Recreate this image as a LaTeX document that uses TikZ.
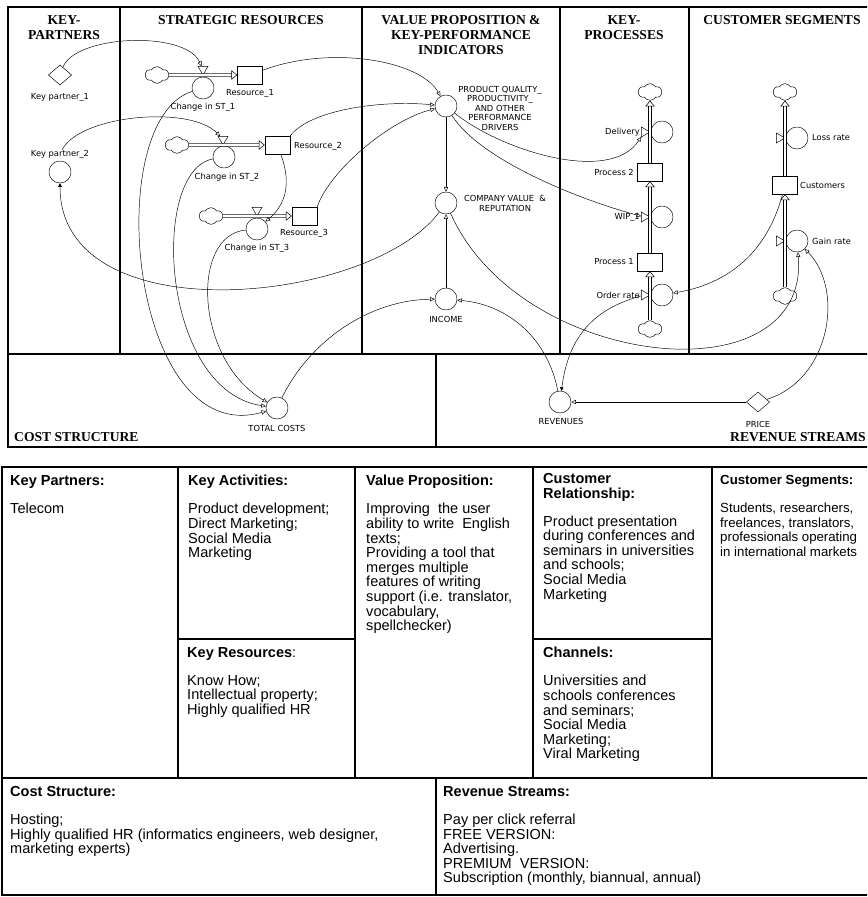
\documentclass[tikz,border=0pt]{standalone}
\usepackage{fontspec}
\setmainfont{Liberation Serif}
\newfontfamily\vsfont{DejaVu Sans}
\newfontfamily\tabfont{Liberation Sans}
\usetikzlibrary{arrows.meta, shapes.geometric, shapes.symbols, positioning}

\tikzset{
    frame/.style      = {line width=1.5pt},                                   % borders of the canvas
    aux/.style        = {circle, draw, minimum size=6.6mm, inner sep=0pt},    % auxiliary variable
    stock/.style      = {rectangle, draw, minimum width=7.5mm, minimum height=5.4mm, inner sep=0pt},
    const/.style      = {diamond, draw, minimum width=7mm, minimum height=6mm, inner sep=0pt},
    cloudy/.style     = {cloud, cloud puffs=6, cloud puff arc=120, draw, minimum width=7mm,
                         minimum height=5mm, inner sep=0pt},
    valvedown/.style  = {regular polygon, regular polygon sides=3, shape border rotate=180,
                         draw, fill=white, minimum size=3.4mm, inner sep=0pt},
    valveright/.style = {regular polygon, regular polygon sides=3, shape border rotate=270,
                         draw, fill=white, minimum size=3.4mm, inner sep=0pt},
    lab/.style        = {font=\vsfont\fontsize{7.1}{8.1}\selectfont, inner sep=0pt, align=center},
    head/.style       = {font=\bfseries\fontsize{11.6}{12.8}\selectfont, inner sep=0pt, align=center},
    cell/.style       = {font=\tabfont\fontsize{12.4}{12.5}\selectfont, anchor=north west,
                         inner sep=0pt, align=left},
    pipe/.style       = {double distance=2pt, line width=0.45pt,
                         -{Triangle[open, length=5pt, width=8pt]}},
    dot/.style        = {-{Triangle[length=3pt, width=3pt]}},
}

\begin{document}
\begin{tikzpicture}[x=0.3mm, y=-0.3mm, thin, >={Triangle[open, length=4pt, width=3.6pt]}]
    \useasboundingbox (0,0) rectangle (867,897);
    \clip (0,0) rectangle (867,897);

    % frame of the model
    \draw[frame] (8,7) rectangle (880,447);
    \foreach \x in {120,362,560,689}
        \draw[frame] (\x,7) -- (\x,354);
    \draw[frame] (8,354) -- (880,354);
    \draw[frame] (436,354) -- (436,447);

    \node[head] (hkp) at (64,27.5)  {KEY-\\PARTNERS};
    \node[head] (hsr) at (241,20)   {STRATEGIC RESOURCES};
    \node[head] (hvp) at (461,35)   {VALUE PROPOSITION \&\\KEY-PERFORMANCE\\INDICATORS};
    \node[head] (hpr) at (624,27.5) {KEY-\\PROCESSES};
    \node[head] (hcs) at (782,20)   {CUSTOMER SEGMENTS};
    \node[head, anchor=west] (hcost) at (14,437)  {COST STRUCTURE};
    \node[head, anchor=east] (hrev)  at (866,437) {REVENUE STREAMS};

    % key partners
    \node[const] (kp1)    at (60,75)  {};
    \node[lab]   (kp1lab) at (60,97)  {Key partner\_1};
    \node[aux]   (kp2)    at (60,172) {};
    \node[lab]   (kp2lab) at (60,154) {Key partner\_2};

    % strategic resources
    \node[cloudy]    (cl1)    at (157,75)   {};
    \node[stock]     (res1)   at (250,75)   {};
    \node[aux]       (st1)    at (203,88)   {};
    \node[valvedown] (v1)     at (203,69.3) {};
    \node[lab]       (st1lab) at (203,107)  {Change in ST\_1};
    \node[lab]       (res1lab) at (250,93)  {Resource\_1};

    \node[cloudy]    (cl2)    at (177,145)   {};
    \node[stock]     (res2)   at (277.5,145) {};
    \node[aux]       (st2)    at (224,157)   {};
    \node[valvedown] (v2)     at (223,139.3) {};
    \node[lab]       (st2lab) at (227,177)   {Change in ST\_2};
    \node[lab, anchor=west] (res2lab) at (294,146) {Resource\_2};

    \node[cloudy]    (cl3)    at (211,216)   {};
    \node[stock]     (res3)   at (304.5,216) {};
    \node[aux]       (st3)    at (257,229)   {};
    \node[valvedown] (v3)     at (257,210.3) {};
    \node[lab]       (st3lab) at (257,248)   {Change in ST\_3};
    \node[lab]       (res3lab) at (304,233)  {Resource\_3};

    \draw[pipe] (cl1) -- (res1);
    \draw[pipe] (cl2) -- (res2);
    \draw[pipe] (cl3) -- (res3);

    % value proposition and KPI
    \node[aux] (pq)    at (446,106) {};
    \node[lab] (pqlab) at (500,108) {PRODUCT QUALITY\_\\PRODUCTIVITY\_\\AND OTHER\\PERFORMANCE\\DRIVERS};
    \node[aux] (cv)    at (446,203) {};
    \node[lab] (cvlab) at (505,203.5) {COMPANY VALUE\ \ \&\\REPUTATION};
    \node[aux] (inc)   at (446,299) {};
    \node[lab] (inclab) at (446,319) {INCOME};

    % key processes
    \node[cloudy]     (kptop) at (650,92)    {};
    \node[aux]        (del)   at (662,132)   {};
    \node[valveright] (vdel)  at (644.3,132) {};
    \node[lab, anchor=east] (dellab) at (640,132) {Delivery};
    \node[stock]      (p2)    at (650,172)   {};
    \node[lab, anchor=east] (p2lab)  at (634,172) {Process 2};
    \node[aux]        (wip)   at (662,217)   {};
    \node[valveright] (vwip)  at (644.3,217) {};
    \node[lab, anchor=east] (wiplab) at (640,217) {WIP\_1};
    \node[stock]      (p1)    at (650,262)   {};
    \node[lab, anchor=east] (p1lab)  at (634,262) {Process 1};
    \node[aux]        (ord)   at (662,295)   {};
    \node[valveright] (vord)  at (644.3,295) {};
    \node[lab, anchor=east] (ordlab) at (640,295) {Order rate};
    \node[cloudy]     (kpbot) at (650,329)   {};

    \draw[pipe] (kpbot) -- (p1);
    \draw[pipe] (p1) -- (p2);
    \draw[pipe] (p2) -- (kptop);

    % customer segments
    \node[cloudy]     (cstop) at (785,92)    {};
    \node[aux]        (loss)  at (797,138)   {};
    \node[valveright] (vloss) at (779.3,138) {};
    \node[lab, anchor=west] (losslab) at (812,138) {Loss rate};
    \node[stock]      (cust)  at (785,185)   {};
    \node[lab, anchor=west] (custlab) at (800,185) {Customers};
    \node[aux]        (gain)  at (797,241)   {};
    \node[valveright] (vgain) at (779.3,241) {};
    \node[lab, anchor=west] (gainlab) at (812,241) {Gain rate};
    \node[cloudy]     (csbot) at (785,296)   {};

    \draw[pipe] (csbot) -- (cust);
    \draw[pipe] (cust) -- (cstop);

    % costs and revenues
    \node[aux]   (tc)       at (277,408) {};
    \node[lab]   (tclab)    at (277,428) {TOTAL COSTS};
    \node[aux]   (rev)      at (560,402) {};
    \node[lab]   (revlab)   at (561,421) {REVENUES};
    \node[const] (price)    at (758,402) {};
    \node[lab]   (pricelab) at (758,424) {PRICE};

    % links of the model
    \draw[->] (kp1) .. controls (75,35) and (185,30) .. (v1);
    \draw[->] (kp2lab) .. controls (80,115) and (190,105) .. (v2);
    \draw[->] (res1) .. controls (330,45) and (420,60) .. (pq);
    \draw[->] (res2.north east) .. controls (310,110) and (380,100) .. (pq);
    \draw[->] (res3.north east) .. controls (330,170) and (390,120) .. (pq);
    \draw[->] (res2) .. controls (292,185) and (285,205) .. (st3);
    \draw[->] (st1) .. controls (100,120) and (130,450) .. (tc);
    \draw[->] (st2) .. controls (150,170) and (160,390) .. (tc);
    \draw[->] (st3) .. controls (190,235) and (195,360) .. (tc);
    \draw[->] (pq) -- (cv);
    \draw[->] (inc) -- (cv);
    \draw[dot] (cv) .. controls (370,305) and (60,335) .. (kp2);
    \draw[->] (pq) .. controls (500,150) and (610,185) .. (vdel);
    \draw[->] (pq) .. controls (480,160) and (580,200) .. (vwip);
    \draw[->] (cv) .. controls (520,370) and (810,400) .. (gain);
    \draw[->] (cust) .. controls (765,260) and (720,285) .. (ord);
    \draw[dot] (vord) .. controls (590,310) and (568,340) .. (rev);
    \draw[->] (price) -- (rev);
    \draw[->] (price) .. controls (830,380) and (845,290) .. (gain);
    \draw[->] (rev) .. controls (548,340) and (510,305) .. (inc);
    \draw[->] (tc) .. controls (310,340) and (370,300) .. (inc);

    % business model canvas
    \draw[frame] (2,467) rectangle (880,895);
    \foreach \x in {178,355,533,712}
        \draw[frame] (\x,467) -- (\x,778);
    \draw[frame] (178,639) -- (355,639);
    \draw[frame] (533,639) -- (712,639);
    \draw[frame] (2,778) -- (880,778);
    \draw[frame] (436,778) -- (436,895);

    \node[cell] (ckp) at (10,475)  {\textbf{Key Partners:}\\[11.4pt]Telecom};
    \node[cell] (cka) at (188,475) {\textbf{Key Activities:}\\[11.4pt]Product development;\\Direct Marketing;\\Social Media\\Marketing};
    \node[cell] (cvp) at (366,475) {\textbf{Value Proposition:}\\[11.4pt]Improving\ \ the user\\ability to write\ \ English\\texts;\\Providing a tool that\\merges multiple\\features of writing\\support (i.e. translator,\\vocabulary,\\spellchecker)};
    \node[cell] (ccr) at (543,473) {\textbf{Customer}\\\textbf{Relationship:}\\[11.4pt]Product presentation\\during conferences and\\seminars in universities\\and schools;\\Social Media\\Marketing};
    \node[cell, font=\tabfont\fontsize{11.3}{12.5}\selectfont] (ccs) at (720,475) {\textbf{Customer Segments:}\\[11.4pt]Students, researchers,\\freelances, translators,\\professionals operating\\in international markets};
    \node[cell] (ckr) at (187,647) {\textbf{Key Resources}:\\[11.4pt]Know How;\\Intellectual property;\\Highly qualified HR};
    \node[cell] (cch) at (543,647) {\textbf{Channels:}\\[11.4pt]Universities and\\schools conferences\\and seminars;\\Social Media\\Marketing;\\Viral Marketing};
    \node[cell] (ccost) at (10,786) {\textbf{Cost Structure:}\\[11.4pt]Hosting;\\Highly qualified HR (informatics engineers, web designer,\\marketing experts)};
    \node[cell] (crev) at (443,786) {\textbf{Revenue Streams:}\\[11.4pt]Pay per click referral\\FREE VERSION:\\Advertising.\\PREMIUM\ \ VERSION:\\Subscription (monthly, biannual, annual)};

\end{tikzpicture}
\end{document}
